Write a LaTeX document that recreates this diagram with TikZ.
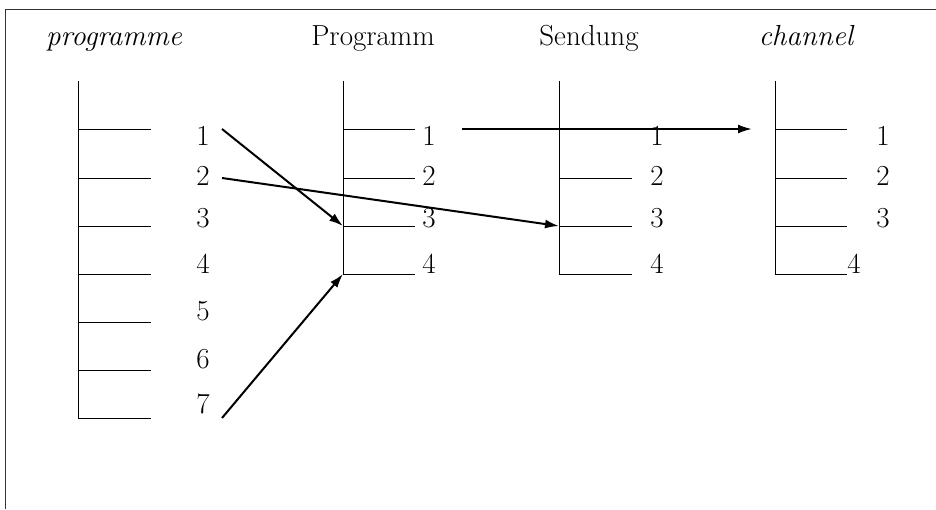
\documentclass[tikz,border=0pt]{standalone}
\usetikzlibrary{arrows.meta}
\begin{document}
\begin{tikzpicture}[x=1pt,y=-1pt,
  tick/.style={line width=0.9pt},
  frameline/.style={line width=1pt,draw=black!80},
  conn/.style={line width=2pt,-{Latex[length=14pt,width=9pt]}},
  num/.style={anchor=base,inner sep=0pt,font=\fontsize{29}{34}\selectfont},
  title/.style={anchor=base,inner sep=0pt,font=\fontsize{29}{34}\selectfont}]
\useasboundingbox (0,0) rectangle (936,509);
% frame
\draw[frameline] (5,509) -- (5,9) -- (936,9);
% titles
\node[title] (t1) at (114,45) {\itshape programme};
\node[title] (t2) at (373,45) {Programm};
\node[title] (t3) at (589,45) {Sendung};
\node[title] (t4) at (806,45) {\itshape channel};
% column 1
\draw[tick] (78,81) -- (78,418);
\foreach \i/\y in {1/129,2/178,3/226,4/274,5/322,6/370,7/418}{
  \coordinate (a\i) at (78,\y);
  \draw[tick] (a\i) -- ++(73,0);
}
\foreach \i/\b in {1/145,2/185,3/227,4/273,5/320,6/368,7/413}{
  \node[num] (na\i) at (203,\b) {\i};
}
% column 2
\draw[tick] (343,81) -- (343,274);
\foreach \i/\y in {1/129,2/178,3/226,4/274}{
  \coordinate (b\i) at (343,\y);
  \draw[tick] (b\i) -- ++(72,0);
}
\foreach \i/\b in {1/145,2/185,3/227,4/273}{
  \node[num] (nb\i) at (429,\b) {\i};
}
% column 3
\draw[tick] (559,81) -- (559,274);
\foreach \i/\y in {1/129,2/178,3/226,4/274}{
  \coordinate (c\i) at (559,\y);
}
\foreach \i in {2,3,4}{
  \draw[tick] (c\i) -- ++(73,0);
}
\foreach \i/\b in {1/145,2/185,3/227,4/273}{
  \node[num] (nc\i) at (657,\b) {\i};
}
% column 4
\draw[tick] (775,81) -- (775,274);
\foreach \i/\y in {1/129,2/178,3/226,4/274}{
  \coordinate (d\i) at (775,\y);
  \draw[tick] (d\i) -- ++(72,0);
}
\foreach \i/\b in {1/145,2/185,3/227}{
  \node[num] (nd\i) at (883,\b) {\i};
}
\node[num] (nd4) at (854,273) {4};
% connectors
\coordinate (s1) at (222,129);
\coordinate (s2) at (222,178);
\coordinate (s7) at (222,418);
\coordinate (s4) at (462,129);
\coordinate (e4) at (752,129);
\draw[conn] (s1) -- (b3);
\draw[conn] (s2) -- (c3);
\draw[conn] (s7) -- (b4);
\draw[conn] (s4) -- (e4);
\end{tikzpicture}
\end{document}
